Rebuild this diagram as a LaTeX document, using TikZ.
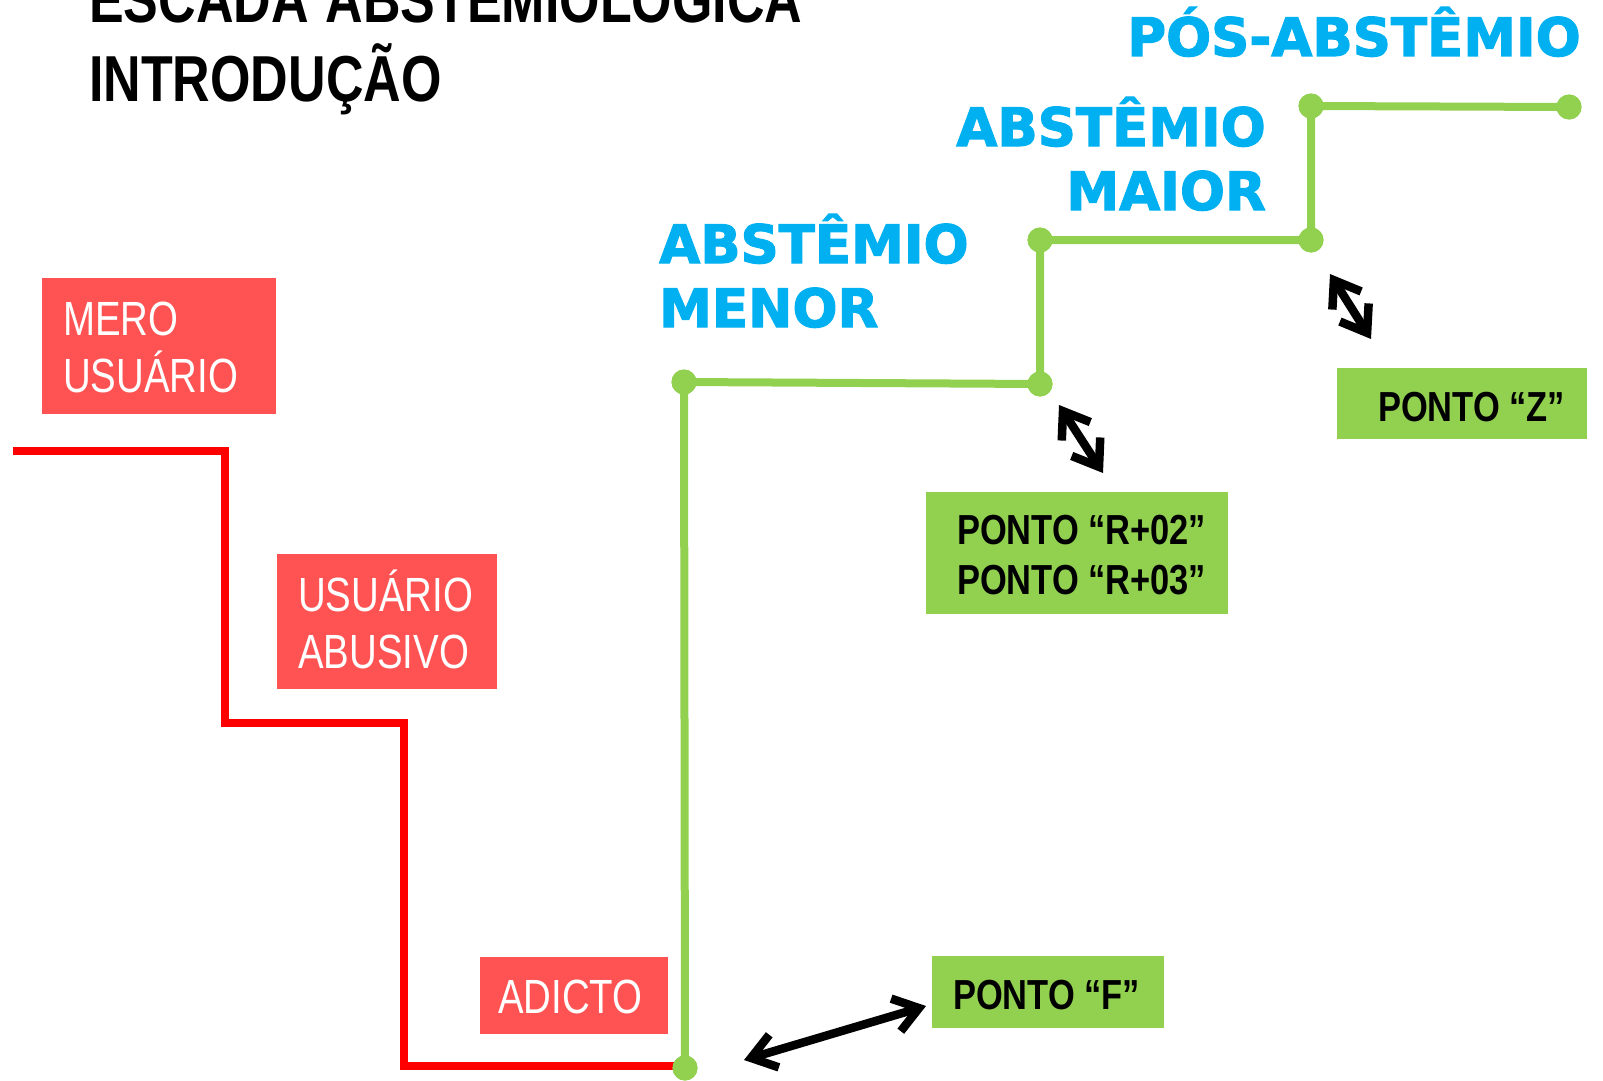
\documentclass[tikz,border=0pt]{standalone}
\usepackage{fontspec}
\setmainfont{Liberation Sans}
\newfontfamily\narrowfont[FakeStretch=0.8]{Liberation Sans}
\newfontfamily\pontofont[FakeStretch=0.82]{Liberation Sans}
\newfontfamily\heavyfont[FakeBold=2.2]{DejaVu Sans Bold}
\usetikzlibrary{arrows.meta}
\definecolor{boxred}{HTML}{FF5353}
\definecolor{linered}{HTML}{FF0000}
\definecolor{stairgreen}{HTML}{92D050}
\definecolor{skyblue}{HTML}{00B0F0}
\newcommand\pontogap{\hspace{9pt}}
\newcommand\titlegap{\hspace{17pt}}
\begin{document}
\begin{tikzpicture}[x=1pt,y=-1pt,
  redbox/.style={fill=boxred, draw=none, anchor=north west, inner sep=0pt, outer sep=0pt},
  greenbox/.style={fill=stairgreen, draw=none, anchor=north west, inner sep=0pt, outer sep=0pt},
  redtext/.style={text=white, font=\narrowfont\fontsize{48}{57}\selectfont, anchor=base west, inner sep=0pt, align=left, text width=240pt},
  pontotext/.style={text=black, font=\pontofont\bfseries\fontsize{42}{50}\selectfont, anchor=base west, inner sep=0pt, align=left, text width=300pt},
  titletext/.style={text=black, font=\narrowfont\bfseries\fontsize{65}{79.5}\selectfont, anchor=base west, inner sep=0pt, align=left, text width=900pt},
  bluetext/.style={text=skyblue, font=\heavyfont\fontsize{53}{64}\selectfont, inner sep=0pt, text width=480pt},
  redline/.style={draw=linered, line width=8.5pt},
  greenline/.style={draw=stairgreen, line width=8pt},
  dot/.style={circle, fill=stairgreen, minimum size=25pt, inner sep=0pt},
  twoway/.style={line width=8.5pt, {Straight Barb[length=24pt,width=34pt]}-{Straight Barb[length=24pt,width=34pt]}}
]
\useasboundingbox (0,0) rectangle (1603,1081);

% title
\node[titletext] (title) at (89,22.5) {ESCADA\titlegap ABSTEMIOLÓGICA\\INTRODUÇÃO};

% red staircase
\coordinate (r0) at (13,451);
\coordinate (r1) at (225,451);
\coordinate (r2) at (225,723);
\coordinate (r3) at (404,723);
\coordinate (r4) at (404,1066);
\coordinate (r5) at (684,1066);
\draw[redline] (r0) -- (r1) -- (r2) -- (r3) -- (r4) -- (r5);

% red boxes
\node[redbox, minimum width=234pt, minimum height=136pt] (mero) at (42,278) {};
\node[redtext] (merotext) at (63,335) {MERO\\USUÁRIO};
\node[redbox, minimum width=220pt, minimum height=135pt] (abusivo) at (277,554) {};
\node[redtext] (abusivotext) at (298,611) {USUÁRIO\\ABUSIVO};
\node[redbox, minimum width=188pt, minimum height=77pt] (adicto) at (480,957) {};
\node[redtext] (adictotext) at (498,1013) {ADICTO};

% green staircase
\node[dot] (g0) at (685,1068) {};
\node[dot] (g1) at (684,382) {};
\node[dot] (g2) at (1040,384) {};
\node[dot] (g3) at (1040,240) {};
\node[dot] (g4) at (1311,240) {};
\node[dot] (g5) at (1311,106) {};
\node[dot] (g6) at (1569,107) {};
\draw[greenline] (g0.center) -- (g1.center) -- (g2.center) -- (g3.center) -- (g4.center) -- (g5.center) -- (g6.center);
\foreach \d in {g0,g1,g2,g3,g4,g5,g6} \fill[stairgreen] (\d) circle (12.5pt);

% blue labels
\node[bluetext, anchor=base west, align=left] (menor) at (659,263) {ABSTÊMIO\\MENOR};
\node[bluetext, anchor=base east, align=right] (maior) at (1266,146) {ABSTÊMIO\\MAIOR};
\node[bluetext, anchor=base east, align=right] (pos) at (1581,56) {PÓS-ABSTÊMIO};

% green boxes
\node[greenbox, minimum width=232pt, minimum height=72pt] (pf) at (932,956) {};
\node[pontotext] (pftext) at (953,1009) {PONTO\pontogap“F”};
\node[greenbox, minimum width=302pt, minimum height=122pt] (pr) at (926,492) {};
\node[pontotext] (prtext) at (957,544) {PONTO\pontogap“R+02”\\PONTO\pontogap“R+03”};
\node[greenbox, minimum width=250pt, minimum height=71pt] (pz) at (1337,368) {};
\node[pontotext] (pztext) at (1378,421) {PONTO\pontogap“Z”};

% arrows
\coordinate (fa) at (744,1060);
\coordinate (fb) at (926,1006);
\coordinate (ra) at (1059,405);
\coordinate (rb) at (1103,473);
\coordinate (za) at (1330,274);
\coordinate (zb) at (1371,339);
\draw[twoway] (fa) -- (fb);
\draw[twoway] (ra) -- (rb);
\draw[twoway] (za) -- (zb);
\end{tikzpicture}
\end{document}
